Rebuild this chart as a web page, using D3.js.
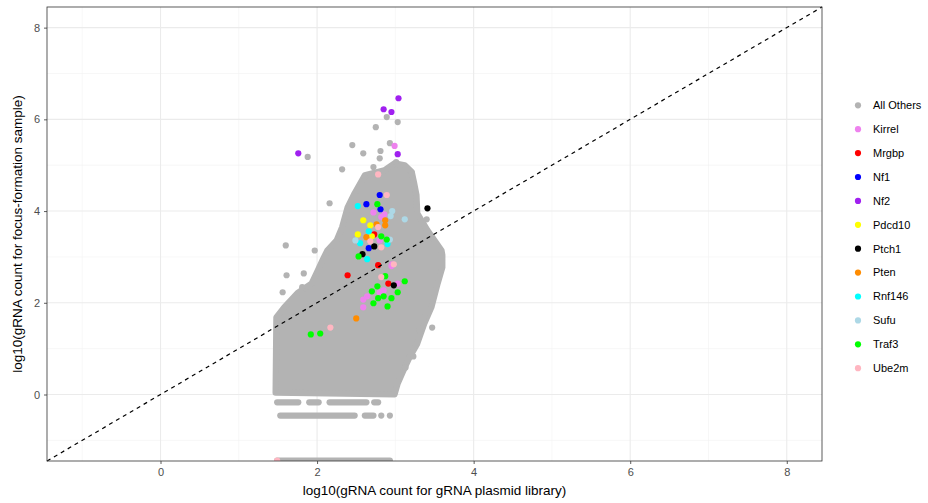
<!DOCTYPE html>
<html>
<head>
<meta charset="utf-8">
<script src="https://cdn.jsdelivr.net/npm/d3@7"></script>
<style>
  body { margin: 0; background: #fff; }
  text { font-family: "Liberation Sans", Arial, sans-serif; }
</style>
</head>
<body>
<svg id="chart" width="928" height="503"></svg>
<script>
// ---- data (log10 counts) ----
const groups = ["All Others", "Kirrel", "Mrgbp", "Nf1", "Nf2", "Pdcd10", "Ptch1",
                "Pten", "Rnf146", "Sufu", "Traf3", "Ube2m"];
const groupColors = ["#B3B3B3", "#EE82EE", "#FF0000", "#0000FF", "#A020F0", "#FFFF00",
                     "#000000", "#FF8C00", "#00FFFF", "#ADD8E6", "#00FF00", "#FFB6C1"];

// outline of the dense block of "All Others" guides (x, y)
const cloudOutline = [
  [1.47, 0.04], [2.99, 0.00], [3.03, 0.24], [3.12, 0.59], [3.18, 0.81], [3.28, 1.11],
  [3.37, 1.55], [3.46, 1.90], [3.54, 2.42], [3.60, 2.77], [3.60, 3.04], [3.59, 3.14],
  [3.41, 3.58], [3.28, 3.95], [3.27, 4.35], [3.24, 4.61], [3.21, 4.85], [3.12, 5.00],
  [2.99, 5.04], [2.86, 4.89], [2.61, 4.78], [2.48, 4.39], [2.39, 4.08], [2.32, 3.65],
  [2.25, 3.36], [2.13, 3.14], [2.07, 2.93], [2.01, 2.71], [1.93, 2.42], [1.75, 2.21],
  [1.58, 1.90], [1.48, 1.68]
];

// discrete low-count rows of "All Others": [y, xStart, xEnd]
const lowRows = [
  [-0.17, 1.49, 1.76], [-0.17, 1.90, 2.02], [-0.17, 2.16, 2.63], [-0.17, 2.73, 2.78],
  [-0.46, 1.53, 2.48], [-0.46, 2.61, 2.72], [-0.46, 2.82, 2.82], [-0.46, 2.93, 2.93],
  [-1.44, 1.49, 2.93]
];

// scattered "All Others" guides outside the dense block
const othersX = [2.89, 3.03, 2.75, 2.93, 2.45, 2.59, 2.81, 2.80, 1.88, 2.32, 2.72, 3.01,
                 3.21, 2.61, 2.16, 1.60, 1.97, 1.61, 1.83, 1.56, 1.81, 3.31, 3.47, 3.23,
                 3.13, 3.37, 3.40];
const othersY = [6.05, 5.94, 5.83, 5.48, 5.44, 5.26, 5.31, 5.15, 5.18, 4.91, 4.96, 5.07,
                 4.83, 4.74, 4.17, 3.25, 3.14, 2.60, 2.64, 2.23, 2.34, 1.42, 1.46, 0.83,
                 0.59, 1.70, 3.82];

// highlighted genes: x = plasmid library, y = focus-formation sample
const kirrelX = [2.99, 2.72, 2.86, 2.82, 2.80, 2.96, 2.59, 2.59, 2.64, 2.80, 2.85, 3.03, 2.95];
const kirrelY = [5.42, 3.97, 3.93, 3.87, 3.36, 2.84, 1.90, 2.07, 2.14, 2.23, 2.27, 2.42, 2.80];
const mrgbpX = [2.73, 2.78, 2.39, 2.91];
const mrgbpY = [3.49, 2.82, 2.60, 2.42];
const nf1X = [2.80, 2.63, 2.81, 2.66];
const nf1Y = [4.35, 4.15, 4.04, 3.19];
const nf2X = [3.04, 2.85, 2.95, 1.76, 3.03];
const nf2Y = [6.46, 6.22, 6.16, 5.26, 5.24];
const pdcd10X = [2.59, 2.68, 2.52, 2.70];
const pdcd10Y = [3.80, 3.69, 3.49, 3.45];
const ptch1X = [3.41, 2.73, 2.58, 2.98];
const ptch1Y = [4.06, 3.23, 3.06, 2.38];
const ptenX = [2.87, 2.87, 2.76, 2.63, 2.50];
const ptenY = [3.80, 3.69, 3.71, 3.43, 1.66];
const rnf146X = [2.52, 2.66, 2.55, 2.90, 2.64];
const rnf146Y = [4.11, 3.56, 3.30, 3.28, 2.95];
const sufuX = [2.96, 2.94, 3.12, 2.49, 2.93];
const sufuY = [4.00, 3.89, 3.82, 3.36, 3.38];
const traf3X = [2.77, 2.82, 2.89, 2.53, 1.92, 2.04, 3.12, 3.03, 2.95, 2.90, 2.72, 2.78,
                2.85, 2.77, 2.70, 2.87];
const traf3Y = [4.15, 3.45, 3.38, 3.01, 1.31, 1.33, 2.47, 2.23, 2.10, 1.92, 1.99, 2.10,
                2.14, 2.36, 2.25, 2.58];
const ube2mX = [2.78, 2.89, 2.78, 2.68, 2.82, 2.98, 2.82, 2.17, 1.49];
const ube2mY = [4.80, 4.35, 3.65, 3.34, 3.21, 2.84, 2.56, 1.46, -1.44];

const xTicks = [0, 2, 4, 6, 8];
const yTicks = [0, 2, 4, 6, 8];
const minorTicks = [-1, 1, 3, 5, 7];

// ---- setup ----
const width = 928, height = 503;
const panel = {left: 47, right: 822, top: 7, bottom: 461};
const domain = [-1.45, 8.45];
const R = 3.1;

const svg = d3.select("#chart");

const x = d3.scaleLinear().domain(domain).range([panel.left, panel.right]);
const y = d3.scaleLinear().domain(domain).range([panel.bottom, panel.top]);

svg.append("defs").append("clipPath").attr("id", "clip")
  .append("rect")
  .attr("x", panel.left).attr("y", panel.top)
  .attr("width", panel.right - panel.left)
  .attr("height", panel.bottom - panel.top);

// ---- grid ----
const grid = svg.append("g");
grid.selectAll(".vmin").data(minorTicks).enter().append("line")
  .attr("x1", d => x(d)).attr("x2", d => x(d))
  .attr("y1", panel.top).attr("y2", panel.bottom)
  .attr("stroke", "#F2F2F2").attr("stroke-width", 0.6);
grid.selectAll(".hmin").data(minorTicks).enter().append("line")
  .attr("y1", d => y(d)).attr("y2", d => y(d))
  .attr("x1", panel.left).attr("x2", panel.right)
  .attr("stroke", "#F2F2F2").attr("stroke-width", 0.6);
grid.selectAll(".vmaj").data(xTicks).enter().append("line")
  .attr("x1", d => x(d)).attr("x2", d => x(d))
  .attr("y1", panel.top).attr("y2", panel.bottom)
  .attr("stroke", "#EBEBEB").attr("stroke-width", 1.1);
grid.selectAll(".hmaj").data(yTicks).enter().append("line")
  .attr("y1", d => y(d)).attr("y2", d => y(d))
  .attr("x1", panel.left).attr("x2", panel.right)
  .attr("stroke", "#EBEBEB").attr("stroke-width", 1.1);

// ---- points ----
const plot = svg.append("g").attr("clip-path", "url(#clip)");
const gray = groupColors[0];

plot.append("path")
  .datum(cloudOutline)
  .attr("d", d3.line().x(d => x(d[0])).y(d => y(d[1])).curve(d3.curveLinearClosed))
  .attr("fill", gray)
  .attr("stroke", gray)
  .attr("stroke-width", 2 * R)
  .attr("stroke-linejoin", "round");

plot.selectAll(".row").data(lowRows).enter().append("line")
  .attr("x1", d => x(d[1])).attr("x2", d => x(d[2]))
  .attr("y1", d => y(d[0])).attr("y2", d => y(d[0]))
  .attr("stroke", gray).attr("stroke-width", 2 * R)
  .attr("stroke-linecap", "round");

plot.selectAll(".other").data(othersX).enter().append("circle")
  .attr("cx", d => x(d)).attr("cy", (d, i) => y(othersY[i]))
  .attr("r", R).attr("fill", gray);

const geneData = [
  [kirrelX, kirrelY], [mrgbpX, mrgbpY], [nf1X, nf1Y], [nf2X, nf2Y],
  [pdcd10X, pdcd10Y], [ptch1X, ptch1Y], [ptenX, ptenY], [rnf146X, rnf146Y],
  [sufuX, sufuY], [traf3X, traf3Y], [ube2mX, ube2mY]
];
const genePoints = [];
geneData.forEach((g, gi) => {
  g[0].forEach((v, i) => genePoints.push({x: v, y: g[1][i], color: groupColors[gi + 1]}));
});

plot.selectAll(".gene").data(genePoints).enter().append("circle")
  .attr("cx", d => x(d.x)).attr("cy", d => y(d.y))
  .attr("r", R).attr("fill", d => d.color);

// identity line
svg.append("line")
  .attr("x1", x(domain[0])).attr("y1", y(domain[0]))
  .attr("x2", x(domain[1])).attr("y2", y(domain[1]))
  .attr("stroke", "#000").attr("stroke-width", 1.2)
  .attr("stroke-dasharray", "4,4");

// panel border
svg.append("rect")
  .attr("x", panel.left).attr("y", panel.top)
  .attr("width", panel.right - panel.left)
  .attr("height", panel.bottom - panel.top)
  .attr("fill", "none").attr("stroke", "#333333").attr("stroke-width", 0.8);

// ---- axes ----
const xAxis = svg.append("g")
  .attr("transform", `translate(0, ${panel.bottom})`)
  .call(d3.axisBottom(x).tickValues(xTicks).tickSize(3).tickPadding(4).tickFormat(d3.format("d")));
const yAxis = svg.append("g")
  .attr("transform", `translate(${panel.left}, 0)`)
  .call(d3.axisLeft(y).tickValues(yTicks).tickSize(3).tickPadding(4).tickFormat(d3.format("d")));

[xAxis, yAxis].forEach(a => {
  a.select(".domain").remove();
  a.selectAll(".tick line").attr("stroke", "#333333").attr("stroke-width", 0.8);
  a.selectAll(".tick text").attr("fill", "#4D4D4D")
    .style("font-size", "11px").style("font-family", "'Liberation Sans', Arial, sans-serif");
});

svg.append("text")
  .attr("x", (panel.left + panel.right) / 2)
  .attr("y", 495)
  .attr("text-anchor", "middle")
  .style("font-size", "13.5px")
  .attr("fill", "#000")
  .text("log10(gRNA count for gRNA plasmid library)");

svg.append("text")
  .attr("transform", `translate(22, ${(panel.top + panel.bottom) / 2}) rotate(-90)`)
  .attr("text-anchor", "middle")
  .style("font-size", "13.5px")
  .attr("fill", "#000")
  .text("log10(gRNA count for focus-formation sample)");

// ---- legend ----
const legend = svg.append("g").attr("transform", "translate(858, 105.3)");
const item = legend.selectAll(".key").data(groups).enter().append("g")
  .attr("transform", (d, i) => `translate(0, ${i * 23.9})`);
item.append("circle").attr("r", R).attr("fill", (d, i) => groupColors[i]);
item.append("text")
  .attr("x", 15).attr("dy", "0.35em")
  .style("font-size", "11px")
  .attr("fill", "#000")
  .text(d => d);
</script>
</body>
</html>
